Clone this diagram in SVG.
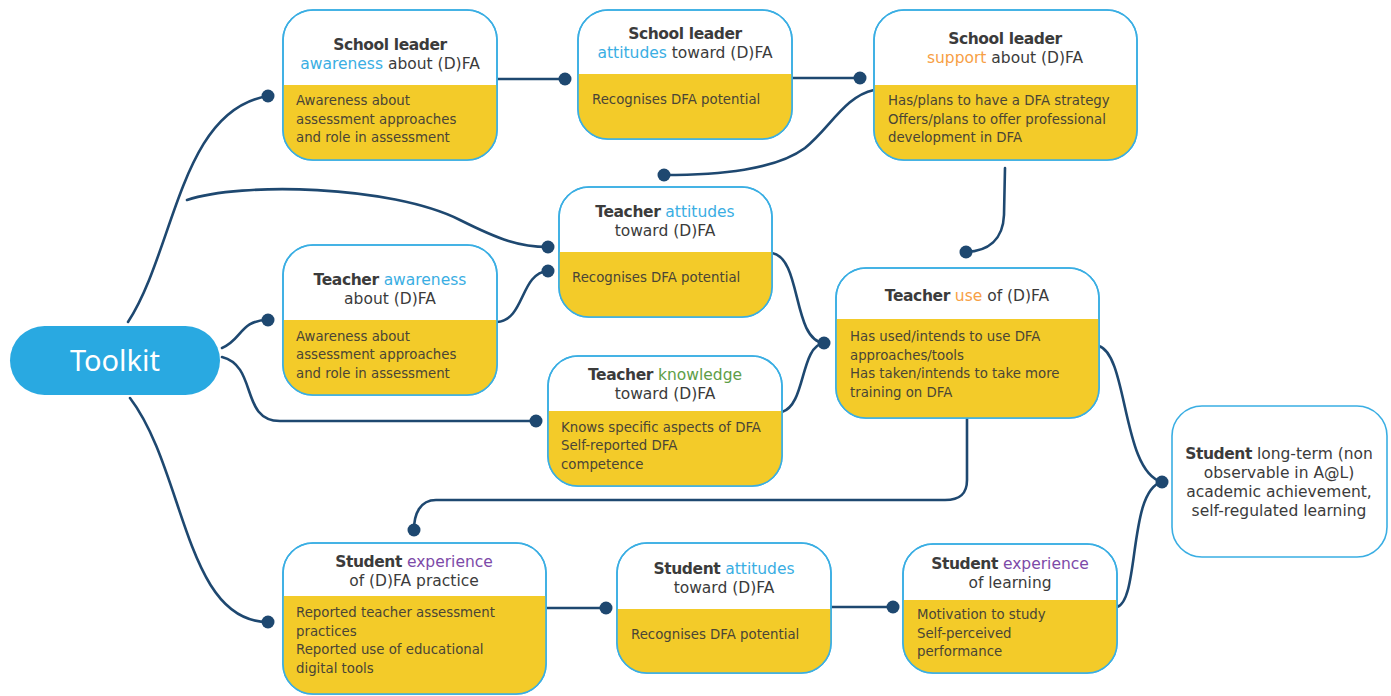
<svg xmlns="http://www.w3.org/2000/svg" width="1391" height="696" viewBox="0 0 1391 696">
<style>
.box{fill:#fff;stroke:#3aaee3;stroke-width:1.6}
.out{fill:none;stroke:#3aaee3;stroke-width:1.6}
.yel{fill:#f3cb29}
.t{font-family:"DejaVu Sans","Noto Sans",sans-serif;font-size:15.5px;fill:#3b3b3b;text-anchor:middle}
.b{font-weight:bold;letter-spacing:-0.4px}
.body{font-family:"DejaVu Sans","Noto Sans",sans-serif;font-size:13.3px;fill:#4a4536}
.blue{fill:#3aaee3}.orange{fill:#f7a045}.green{fill:#5e9e48}.purple{fill:#7d4aa8}
.con{fill:none;stroke:#1e4870;stroke-width:2.6;stroke-linecap:round}
.dot{fill:#1e4870}
</style>
<rect width="1391" height="696" fill="#fff"/>
<g id="connectors">
<path class="con" d="M128 322 C175 250 180 110 268 96"/>
<path class="con" d="M187 200 C240 182 390 185 460 220 C500 240 520 247 548 247"/>
<path class="con" d="M222 348 C242 340 240 320 268 320"/>
<path class="con" d="M222 357 C258 366 240 421 280 421 L536 421"/>
<path class="con" d="M130 398 C185 470 185 622 268 622"/>
<path class="con" d="M497 79 L565 79"/>
<path class="con" d="M792 78 L860 78"/>
<path class="con" d="M874 90 C845 96 830 128 805 148 C775 170 720 175 664 175"/>
<path class="con" d="M1005 168 L1004 215 C1003 240 988 251 966 252"/>
<path class="con" d="M497 322 C525 320 520 273 548 271"/>
<path class="con" d="M772 253 C802 258 792 340 824 343"/>
<path class="con" d="M782 412 C806 405 800 346 824 343"/>
<path class="con" d="M967 418 L967 480 C967 494 960 500 945 500 L436 500 C420 500 414 514 414 530"/>
<path class="con" d="M546 608 L606 608"/>
<path class="con" d="M831 607 L893 607"/>
<path class="con" d="M1117 607 C1140 600 1128 490 1162 482"/>
<path class="con" d="M1099 346 C1128 355 1122 472 1162 482"/>
<circle class="dot" cx="268" cy="96" r="6.5"/>
<circle class="dot" cx="548" cy="247" r="6.5"/>
<circle class="dot" cx="268" cy="320" r="6.5"/>
<circle class="dot" cx="536" cy="421" r="6.5"/>
<circle class="dot" cx="268" cy="622" r="6.5"/>
<circle class="dot" cx="565" cy="79" r="6.5"/>
<circle class="dot" cx="860" cy="78" r="6.5"/>
<circle class="dot" cx="664" cy="175" r="6.5"/>
<circle class="dot" cx="966" cy="252" r="6.5"/>
<circle class="dot" cx="548" cy="271" r="6.5"/>
<circle class="dot" cx="824" cy="343" r="6.5"/>
<circle class="dot" cx="414" cy="530" r="6.5"/>
<circle class="dot" cx="606" cy="608" r="6.5"/>
<circle class="dot" cx="893" cy="607" r="6.5"/>
<circle class="dot" cx="1162" cy="482" r="6.5"/>
</g>
<g id="toolkit">
<rect x="10" y="326" width="210" height="69" rx="34.5" fill="#29a9e1"/>
<text x="115" y="371" font-family="Noto Sans, Lato, sans-serif" font-size="29" fill="#fff" text-anchor="middle">Toolkit</text>
</g>
<g id="sl-awareness">
<rect class="box" x="283" y="10" width="214" height="150" rx="30"/>
<path class="yel" d="M283 85 H497 V130 A30 30 0 0 1 467 160 H313 A30 30 0 0 1 283 130 Z"/>
<rect class="out" x="283" y="10" width="214" height="150" rx="30"/>
<text class="t" x="390" y="50"><tspan class="b">School leader</tspan></text>
<text class="t" x="390" y="69"><tspan class="blue">awareness</tspan> about (D)FA</text>
<text class="body" x="296" y="105">Awareness about</text>
<text class="body" x="296" y="124">assessment approaches</text>
<text class="body" x="296" y="142">and role in assessment</text>
</g>
<g id="sl-attitudes">
<rect class="box" x="578" y="10" width="214" height="129" rx="30"/>
<path class="yel" d="M578 74 H792 V109 A30 30 0 0 1 762 139 H608 A30 30 0 0 1 578 109 Z"/>
<rect class="out" x="578" y="10" width="214" height="129" rx="30"/>
<text class="t" x="685" y="39"><tspan class="b">School leader</tspan></text>
<text class="t" x="685" y="58"><tspan class="blue">attitudes</tspan> toward (D)FA</text>
<text class="body" x="592" y="104">Recognises DFA potential</text>
</g>
<g id="sl-support">
<rect class="box" x="874" y="10" width="263" height="150" rx="30"/>
<path class="yel" d="M874 85 H1137 V130 A30 30 0 0 1 1107 160 H904 A30 30 0 0 1 874 130 Z"/>
<rect class="out" x="874" y="10" width="263" height="150" rx="30"/>
<text class="t" x="1005" y="44"><tspan class="b">School leader</tspan></text>
<text class="t" x="1005" y="63"><tspan class="orange">support</tspan> about (D)FA</text>
<text class="body" x="888" y="105">Has/plans to have a DFA strategy</text>
<text class="body" x="888" y="124">Offers/plans to offer professional</text>
<text class="body" x="888" y="142">development in DFA</text>
</g>
<g id="t-attitudes">
<rect class="box" x="559" y="187" width="213" height="130" rx="30"/>
<path class="yel" d="M559 252 H772 V287 A30 30 0 0 1 742 317 H589 A30 30 0 0 1 559 287 Z"/>
<rect class="out" x="559" y="187" width="213" height="130" rx="30"/>
<text class="t" x="665" y="217"><tspan class="b">Teacher</tspan> <tspan class="blue">attitudes</tspan></text>
<text class="t" x="665" y="236">toward (D)FA</text>
<text class="body" x="572" y="282">Recognises DFA potential</text>
</g>
<g id="t-awareness">
<rect class="box" x="283" y="245" width="214" height="150" rx="30"/>
<path class="yel" d="M283 320 H497 V365 A30 30 0 0 1 467 395 H313 A30 30 0 0 1 283 365 Z"/>
<rect class="out" x="283" y="245" width="214" height="150" rx="30"/>
<text class="t" x="390" y="285"><tspan class="b">Teacher</tspan> <tspan class="blue">awareness</tspan></text>
<text class="t" x="390" y="304">about (D)FA</text>
<text class="body" x="296" y="341">Awareness about</text>
<text class="body" x="296" y="359">assessment approaches</text>
<text class="body" x="296" y="378">and role in assessment</text>
</g>
<g id="t-knowledge">
<rect class="box" x="548" y="356" width="234" height="130" rx="30"/>
<path class="yel" d="M548 411 H782 V456 A30 30 0 0 1 752 486 H578 A30 30 0 0 1 548 456 Z"/>
<rect class="out" x="548" y="356" width="234" height="130" rx="30"/>
<text class="t" x="665" y="380"><tspan class="b">Teacher</tspan> <tspan class="green">knowledge</tspan></text>
<text class="t" x="665" y="399">toward (D)FA</text>
<text class="body" x="561" y="432">Knows specific aspects of DFA</text>
<text class="body" x="561" y="450">Self-reported DFA</text>
<text class="body" x="561" y="469">competence</text>
</g>
<g id="t-use">
<rect class="box" x="836" y="268" width="263" height="150" rx="30"/>
<path class="yel" d="M836 319 H1099 V388 A30 30 0 0 1 1069 418 H866 A30 30 0 0 1 836 388 Z"/>
<rect class="out" x="836" y="268" width="263" height="150" rx="30"/>
<text class="t" x="967" y="301"><tspan class="b">Teacher</tspan> <tspan class="orange">use</tspan> of (D)FA</text>
<text class="body" x="850" y="341">Has used/intends to use DFA</text>
<text class="body" x="850" y="360">approaches/tools</text>
<text class="body" x="850" y="378">Has taken/intends to take more</text>
<text class="body" x="850" y="397">training on DFA</text>
</g>
<g id="s-longterm">
<rect class="box" x="1172" y="406" width="215" height="151" rx="30"/>
<text class="t" x="1279" y="459"><tspan class="b">Student</tspan> long-term (non</text>
<text class="t" x="1279" y="478">observable in A@L)</text>
<text class="t" x="1279" y="497">academic achievement,</text>
<text class="t" x="1279" y="516">self-regulated learning</text>
</g>
<g id="s-experience-practice">
<rect class="box" x="283" y="543" width="263" height="151" rx="30"/>
<path class="yel" d="M283 596 H546 V664 A30 30 0 0 1 516 694 H313 A30 30 0 0 1 283 664 Z"/>
<rect class="out" x="283" y="543" width="263" height="151" rx="30"/>
<text class="t" x="414" y="567"><tspan class="b">Student</tspan> <tspan class="purple">experience</tspan></text>
<text class="t" x="414" y="586">of (D)FA practice</text>
<text class="body" x="296" y="617">Reported teacher assessment</text>
<text class="body" x="296" y="636">practices</text>
<text class="body" x="296" y="654">Reported use of educational</text>
<text class="body" x="296" y="673">digital tools</text>
</g>
<g id="s-attitudes">
<rect class="box" x="617" y="543" width="214" height="130" rx="30"/>
<path class="yel" d="M617 609 H831 V643 A30 30 0 0 1 801 673 H647 A30 30 0 0 1 617 643 Z"/>
<rect class="out" x="617" y="543" width="214" height="130" rx="30"/>
<text class="t" x="724" y="574"><tspan class="b">Student</tspan> <tspan class="blue">attitudes</tspan></text>
<text class="t" x="724" y="593">toward (D)FA</text>
<text class="body" x="631" y="639">Recognises DFA potential</text>
</g>
<g id="s-experience-learning">
<rect class="box" x="903" y="544" width="214" height="129" rx="30"/>
<path class="yel" d="M903 600 H1117 V643 A30 30 0 0 1 1087 673 H933 A30 30 0 0 1 903 643 Z"/>
<rect class="out" x="903" y="544" width="214" height="129" rx="30"/>
<text class="t" x="1010" y="569"><tspan class="b">Student</tspan> <tspan class="purple">experience</tspan></text>
<text class="t" x="1010" y="588">of learning</text>
<text class="body" x="917" y="619">Motivation to study</text>
<text class="body" x="917" y="638">Self-perceived</text>
<text class="body" x="917" y="656">performance</text>
</g>
</svg>
